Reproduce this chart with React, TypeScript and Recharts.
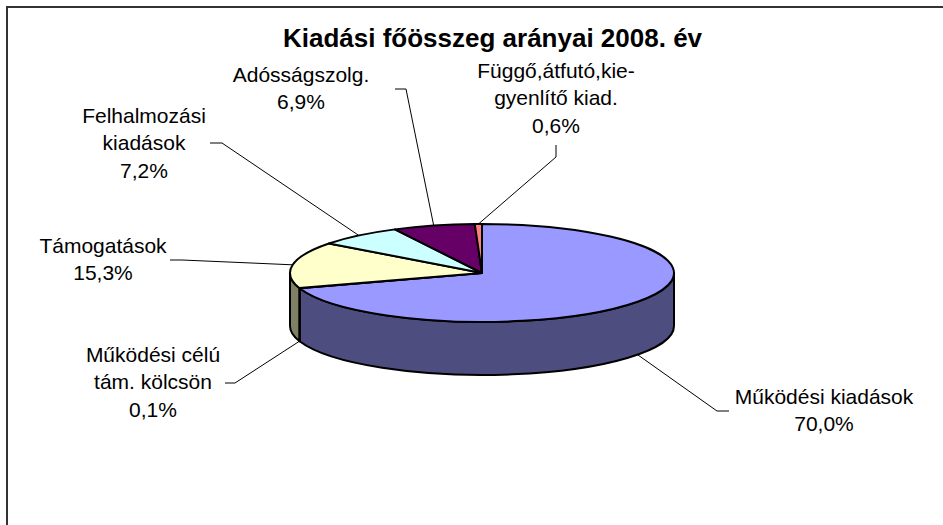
import React from 'react';
import { PieChart, Pie } from 'recharts';

const categories = [
  'Működési kiadások',
  'Működési célú\ntám. kölcsön',
  'Támogatások',
  'Felhalmozási\nkiadások',
  'Adósságszolg.',
  'Függő,átfutó,kie-\ngyenlítő kiad.',
];
const shares = [70.0, 0.1, 15.3, 7.2, 6.9, 0.6];
const topColors = ['#9999FF', '#993366', '#FFFFCC', '#CCFFFF', '#660066', '#FF8080'];
const sideColors = ['#4D4D80', '#4D1A33', '#808066', '#668080', '#330033', '#804040'];

const data = categories.map((name, i) => ({ name, value: shares[i] }));

const W = 943;
const H = 525;
const TILT = 0.255; // flattening of the pie (ry / rx)
const DEPTH = 53;
const FONT = '"Liberation Sans", Arial, sans-serif';
const RAD = Math.PI / 180;

// where each label sits: leader elbow, leader end, text centre, first baseline
const LABEL_SPOTS = [
  { elbow: [717, 411], end: [729, 411], x: 824, y: 404 },
  { elbow: [235, 383], end: [225, 383], x: 153, y: 362 },
  { elbow: [182, 260], end: [170, 260], x: 103, y: 253 },
  { elbow: [222, 143], end: [210, 143], x: 144, y: 123 },
  { elbow: [406, 89], end: [395, 89], x: 301, y: 82 },
  { elbow: [556, 157], end: [556, 145], x: 556, y: 78 },
];

const ellipsePt = (cx: number, cy: number, rx: number, deg: number, dy = 0) =>
  [cx + rx * Math.cos(deg * RAD), cy - rx * TILT * Math.sin(deg * RAD) + dy];

const xy = (p: number[]) => `${p[0].toFixed(2)},${p[1].toFixed(2)}`;

const Slice3D = (props: any) => {
  const { cx, cy, outerRadius, startAngle, endAngle, index } = props;
  const rx = outerRadius;
  const ry = rx * TILT;
  const P = (a: number, dy = 0) => ellipsePt(cx, cy, rx, a, dy);

  // front wall: part of the slice in the lower half of the ellipse
  const hi = Math.min(startAngle, 0);
  const lo = Math.max(endAngle, -180);
  let side = null;
  if (hi > lo) {
    const big = hi - lo > 180 ? 1 : 0;
    const d = `M${xy(P(hi))} A${rx},${ry} 0 ${big} 1 ${xy(P(lo))} L${xy(P(lo, DEPTH))} A${rx},${ry} 0 ${big} 0 ${xy(P(hi, DEPTH))} Z`;
    side = <path d={d} fill={sideColors[index]} stroke="#000" strokeWidth={2} strokeLinejoin="round" />;
  }
  const big = startAngle - endAngle > 180 ? 1 : 0;
  const top = `M${cx},${cy} L${xy(P(startAngle))} A${rx},${ry} 0 ${big} 1 ${xy(P(endAngle))} Z`;
  return (
    <g>
      {side}
      <path d={top} fill={topColors[index]} stroke="#000" strokeWidth={2} strokeLinejoin="round" />
    </g>
  );
};

const SliceLabel = (props: any) => {
  const { cx, cy, outerRadius, midAngle, index, name, value } = props;
  const spot = LABEL_SPOTS[index];
  const onTop = Math.sin(midAngle * RAD) >= 0;
  const start = ellipsePt(cx, cy, outerRadius, midAngle, onTop ? 0 : DEPTH);
  const lines = [...String(name).split('\n'), `${Number(value).toFixed(1).replace('.', ',')}%`];
  return (
    <g>
      <polyline
        points={`${xy(start)} ${spot.elbow.join(',')} ${spot.end.join(',')}`}
        fill="none"
        stroke="#000"
        strokeWidth={1}
      />
      <text x={spot.x} y={spot.y} textAnchor="middle" fontFamily={FONT} fontSize={21} fill="#000">
        {lines.map((t, i) => (
          <tspan key={i} x={spot.x} dy={i === 0 ? 0 : 27.3}>
            {t}
          </tspan>
        ))}
      </text>
    </g>
  );
};

export default function App() {
  return (
    <div style={{ position: 'absolute', left: 0, top: 0, width: W, height: H, overflow: 'hidden', background: '#fff' }}>
      <div
        style={{
          position: 'absolute',
          left: 6,
          top: 6,
          width: 1000,
          height: 1000,
          borderLeft: '2px solid #333',
          borderTop: '2px solid #333',
        }}
      />
      <div
        style={{
          position: 'absolute',
          left: 0,
          top: 23,
          width: 985,
          textAlign: 'center',
          fontFamily: FONT,
          fontWeight: 'bold',
          fontSize: 26,
          lineHeight: '30px',
          color: '#000',
        }}
      >
        Kiadási főösszeg arányai 2008. év
      </div>
      <div style={{ position: 'absolute', left: 0, top: 0 }}>
        <PieChart width={W} height={H} margin={{ top: 0, right: 0, bottom: 0, left: 0 }}>
          <Pie
            data={data}
            dataKey="value"
            nameKey="name"
            cx={482}
            cy={273}
            outerRadius={192}
            startAngle={90}
            endAngle={-270}
            fill="none"
            stroke="none"
            label={Slice3D}
            labelLine={false}
            isAnimationActive={false}
          />
          <Pie
            data={data}
            dataKey="value"
            nameKey="name"
            cx={482}
            cy={273}
            outerRadius={192}
            startAngle={90}
            endAngle={-270}
            fill="none"
            stroke="none"
            label={SliceLabel}
            labelLine={false}
            isAnimationActive={false}
          />
        </PieChart>
      </div>
    </div>
  );
}
